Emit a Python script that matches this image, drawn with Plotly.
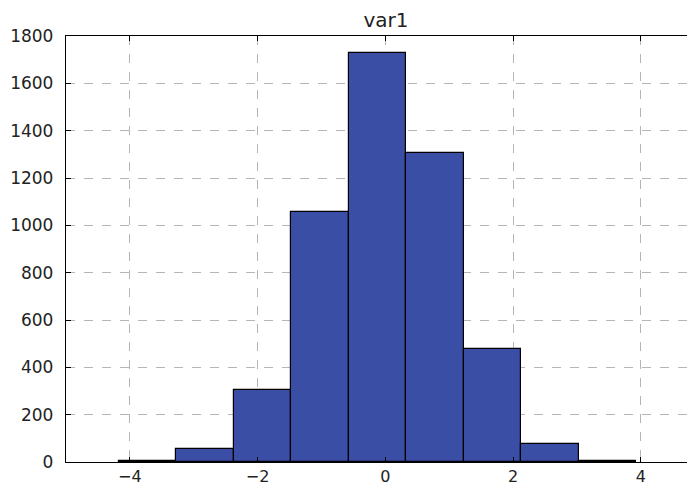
import numpy as np
import plotly.graph_objects as go

title = "var1"
bin_edges = [-4.17, -3.27, -2.37, -1.47, -0.57, 0.33, 1.23, 2.13, 3.03, 3.93]
counts = [5, 55, 304, 1055, 1727, 1304, 476, 78, 4]
x_ticks = [-4, -2, 0, 2, 4]
y_ticks = [0, 200, 400, 600, 800, 1000, 1200, 1400, 1600, 1800]

edges = np.array(bin_edges)
centers = (edges[:-1] + edges[1:]) / 2
widths = np.diff(edges)

fig = go.Figure(
    go.Bar(
        x=centers,
        y=counts,
        width=widths,
        marker=dict(color="#3a4ea6", line=dict(color="#000000", width=1.2)),
    )
)

# page body has an 8px default margin, so the figure is sized to fit inside
W, H = 687, 477
font = dict(family="DejaVu Sans", size=17, color="#222222")
fig.update_layout(
    width=W,
    height=H,
    margin=dict(l=58, r=0, t=28, b=23, autoexpand=False),
    paper_bgcolor="white",
    plot_bgcolor="white",
    showlegend=False,
    bargap=0,
    font=font,
    title=dict(text=title, x=378 / W, xanchor="center", y=1 - 12 / H, yanchor="middle",
               font=dict(family="DejaVu Sans", size=20, color="#222222")),
)
fig.update_xaxes(
    range=[-5, 4.85],
    tickvals=x_ticks,
    ticks="inside",
    ticklen=5,
    tickcolor="#000000",
    showline=True,
    linecolor="#000000",
    linewidth=1.3,
    mirror="ticks",
    showgrid=True,
    gridcolor="#b5b5b5",
    griddash="dash",
    gridwidth=1,
    zeroline=False,
    tickfont=dict(family="DejaVu Sans", size=16, color="#222222"),
    automargin=False,
)
fig.update_yaxes(
    range=[0, 1800],
    tickvals=y_ticks,
    ticks="inside",
    ticklen=5,
    tickcolor="#000000",
    showline=True,
    linecolor="#000000",
    linewidth=1.3,
    mirror=False,
    showgrid=True,
    gridcolor="#b5b5b5",
    griddash="dash",
    gridwidth=1,
    zeroline=False,
    tickfont=font,
    ticklabelstandoff=8,
    automargin=False,
)

fig.write_html("out.html")
